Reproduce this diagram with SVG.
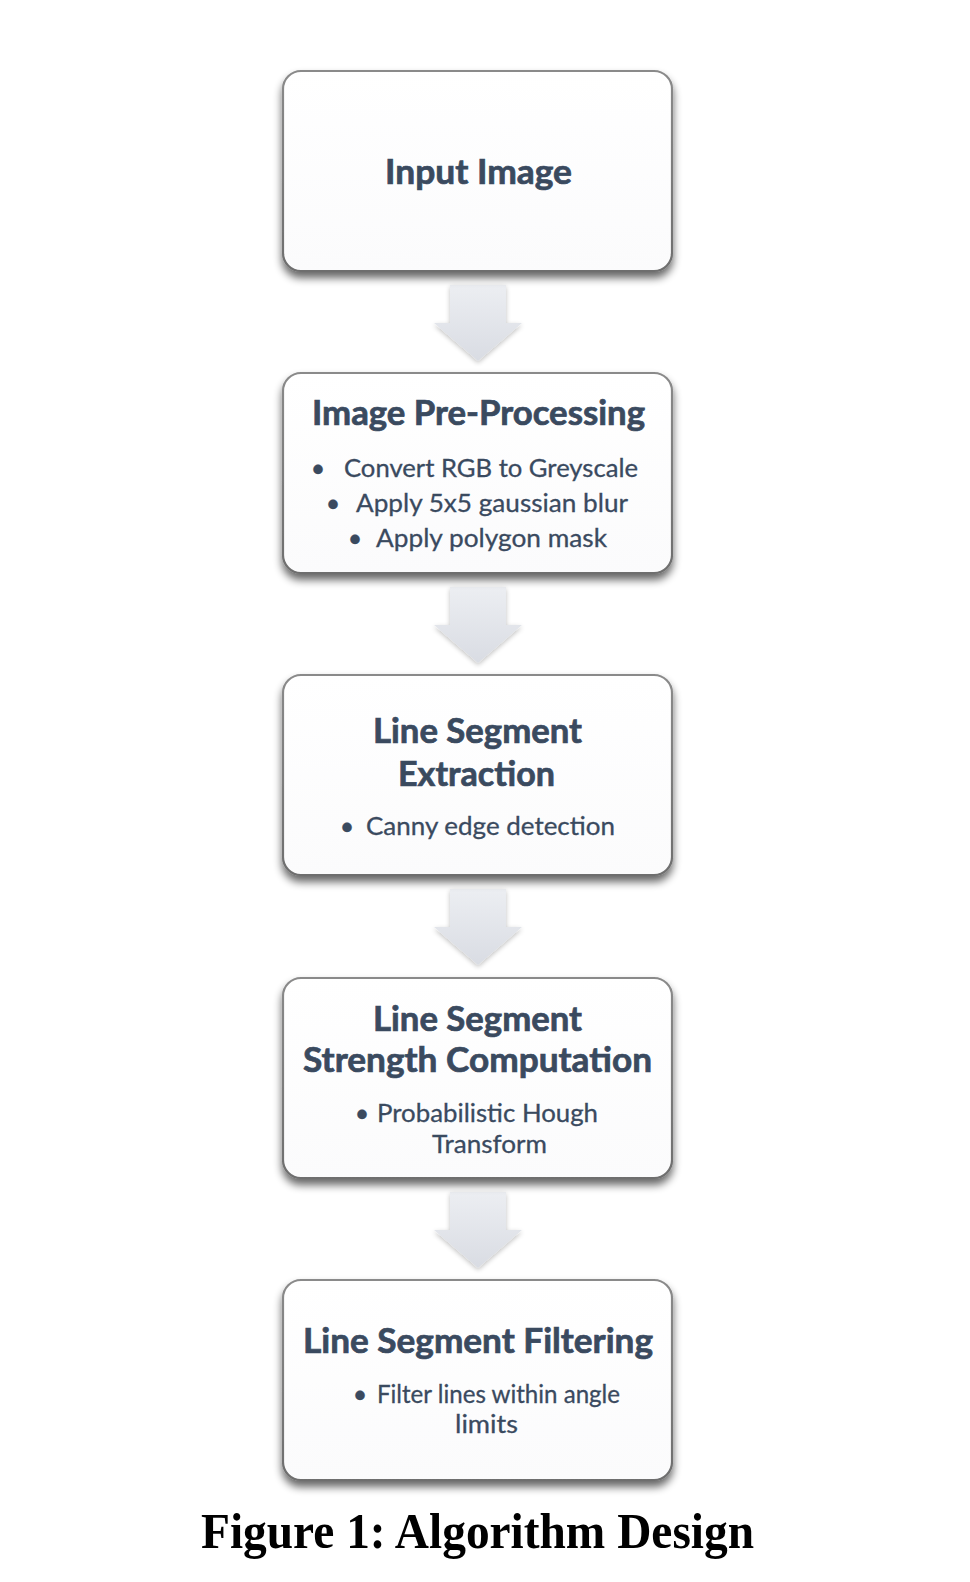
<svg xmlns="http://www.w3.org/2000/svg" width="970" height="1582" viewBox="0 0 970 1582">
<defs>
<filter id="shadow" x="-10%" y="-10%" width="120%" height="130%">
<feGaussianBlur in="SourceAlpha" stdDeviation="4"/>
<feOffset dx="0" dy="6" result="b"/>
<feComponentTransfer><feFuncA type="linear" slope="0.6"/></feComponentTransfer>
<feMerge><feMergeNode/><feMergeNode in="SourceGraphic"/></feMerge>
</filter>
<filter id="ashadow" x="-20%" y="-20%" width="140%" height="140%">
<feGaussianBlur in="SourceAlpha" stdDeviation="2.5"/>
<feOffset dx="0" dy="2"/>
<feComponentTransfer><feFuncA type="linear" slope="0.25"/></feComponentTransfer>
<feMerge><feMergeNode/><feMergeNode in="SourceGraphic"/></feMerge>
</filter>
<linearGradient id="boxfill" x1="0" y1="0" x2="0" y2="1">
<stop offset="0" stop-color="#ffffff"/>
<stop offset="1" stop-color="#fbfbfc"/>
</linearGradient>
<linearGradient id="boxstroke" x1="0" y1="0" x2="0" y2="1">
<stop offset="0" stop-color="#8a8a8a"/>
<stop offset="1" stop-color="#6e6e6e"/>
</linearGradient>
<linearGradient id="arrowfill" x1="0" y1="0" x2="0" y2="1">
<stop offset="0" stop-color="#eceef2"/>
<stop offset="1" stop-color="#d9dce3"/>
</linearGradient>
<rect id="box" x="0" y="0" width="389" height="200" rx="18" ry="18"/>
<path id="arrow" d="M-28,0 H28 V38 H44 L0,76 L-44,38 H-28 Z"/>
</defs>
<style>
.box{fill:url(#boxfill);stroke:url(#boxstroke);stroke-width:2.2;filter:url(#shadow)}
.arr{fill:url(#arrowfill);filter:url(#ashadow)}
.t{font-family:Lato,"Open Sans",sans-serif;font-weight:bold;fill:#3a4a5f;stroke:#3a4a5f;stroke-width:0.7;font-size:34px}
.b{font-family:Lato,"Open Sans",sans-serif;fill:#3a4a5f;stroke:#3a4a5f;stroke-width:0.3;font-size:25px}
.cap{font-family:"Liberation Serif","Times New Roman",serif;font-weight:bold;fill:#000;font-size:50px}
</style>
<rect width="970" height="1582" fill="#ffffff"/>
<g id="connectors">
<use href="#arrow" class="arr" x="478" y="285"/>
<use href="#arrow" class="arr" x="478" y="587"/>
<use href="#arrow" class="arr" x="478" y="889"/>
<use href="#arrow" class="arr" x="478" y="1192"/>
</g>
<g id="node-input">
<use href="#box" class="box" x="283" y="71"/>
<text class="t" x="385" y="184" textLength="187" lengthAdjust="spacingAndGlyphs">Input Image</text>
</g>
<g id="node-preprocessing">
<use href="#box" class="box" x="283" y="373"/>
<text class="t" x="312" y="425" textLength="333" lengthAdjust="spacingAndGlyphs">Image Pre-Processing</text>
<text class="b" x="318" y="477" text-anchor="middle">•</text>
<text class="b" x="344" y="477" textLength="294" lengthAdjust="spacingAndGlyphs">Convert RGB to Greyscale</text>
<text class="b" x="333" y="512" text-anchor="middle">•</text>
<text class="b" x="356" y="512" textLength="272" lengthAdjust="spacingAndGlyphs">Apply 5x5 gaussian blur</text>
<text class="b" x="355" y="547" text-anchor="middle">•</text>
<text class="b" x="376" y="547" textLength="231" lengthAdjust="spacingAndGlyphs">Apply polygon mask</text>
</g>
<g id="node-extraction">
<use href="#box" class="box" x="283" y="675"/>
<text class="t" x="373" y="743" textLength="209" lengthAdjust="spacingAndGlyphs">Line Segment</text>
<text class="t" x="398" y="786" textLength="157" lengthAdjust="spacingAndGlyphs">Extraction</text>
<text class="b" x="347" y="835" text-anchor="middle">•</text>
<text class="b" x="366" y="835" textLength="249" lengthAdjust="spacingAndGlyphs">Canny edge detection</text>
</g>
<g id="node-strength">
<use href="#box" class="box" x="283" y="978"/>
<text class="t" x="373" y="1031" textLength="209" lengthAdjust="spacingAndGlyphs">Line Segment</text>
<text class="t" x="303" y="1072" textLength="349" lengthAdjust="spacingAndGlyphs">Strength Computation</text>
<text class="b" x="362" y="1122" text-anchor="middle">•</text>
<text class="b" x="377" y="1122" textLength="221" lengthAdjust="spacingAndGlyphs">Probabilistic Hough</text>
<text class="b" x="432" y="1153" textLength="115" lengthAdjust="spacingAndGlyphs">Transform</text>
</g>
<g id="node-filtering">
<use href="#box" class="box" x="283" y="1280"/>
<text class="t" x="303" y="1353" textLength="350" lengthAdjust="spacingAndGlyphs">Line Segment Filtering</text>
<text class="b" x="360" y="1403" text-anchor="middle">•</text>
<text class="b" x="377" y="1403" textLength="243" lengthAdjust="spacingAndGlyphs">Filter lines within angle</text>
<text class="b" x="455" y="1433" textLength="63" lengthAdjust="spacingAndGlyphs">limits</text>
</g>
<text class="cap" x="201" y="1548" textLength="553" lengthAdjust="spacingAndGlyphs">Figure 1: Algorithm Design</text>
</svg>
